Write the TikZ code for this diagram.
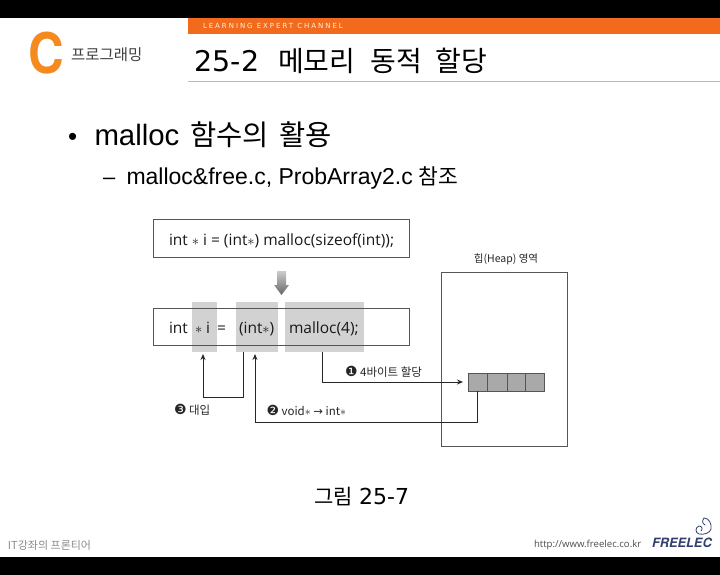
\documentclass[tikz,border=0pt]{standalone}
\usepackage{fontspec}
\usetikzlibrary{arrows.meta,positioning,calc}
\setmainfont{Liberation Sans}
\newfontfamily\kr{Noto Sans CJK KR}
\newfontfamily\fig{Open Sans}
\newfontfamily\syms{DejaVu Sans}
\newfontfamily\wide[LetterSpace=28]{DejaVu Sans}
\newfontfamily\heros{TeX Gyre Heros}
\definecolor{orangeband}{HTML}{F26A1B}
\definecolor{corange}{HTML}{F58A1F}
\definecolor{tanline}{HTML}{D8B48C}
\definecolor{hl}{HTML}{D2D2D2}
\definecolor{cellgray}{HTML}{A9A9A9}
\definecolor{navy}{HTML}{33406E}
\definecolor{boxline}{HTML}{555555}
\tikzset{
  x=1pt,y=-1pt,
  every node/.style={inner sep=0pt,outer sep=0pt},
  lbl/.style={anchor=west,text=black},
  blbl/.style={anchor=base west,text=black},
  codebox/.style={draw=boxline,line width=0.9pt,fill=none,minimum width=255.5pt,minimum height=37.5pt},
  hlbox/.style={fill=hl,minimum height=50pt},
  celln/.style={draw=boxline,fill=cellgray,line width=0.8pt,minimum height=18pt},
  conn/.style={draw=black!85,line width=0.9pt,-{Stealth[length=6pt,width=5pt]}},
  code/.style={anchor=base west,font=\fig\fontsize{15.5}{18}\selectfont,text=black!90},
  note/.style={anchor=west,font=\kr\fontsize{11.5}{13}\selectfont,text=black!85},
}
\begin{document}
\begin{tikzpicture}
\useasboundingbox (0,0) rectangle (720,575);
\fill[white] (0,0) rectangle (720,575);
\fill[black] (0,0) rectangle (720,18);
\fill[black] (0,557) rectangle (720,575);
\fill[orangeband] (188,18) rectangle (720,34);
\draw[tanline,line width=0.9pt] (188,81) -- (720,81);
\node[lbl,text=white!90!orange,font=\wide\fontsize{7}{8}\selectfont] (band) at (203,25.5) {LEARNING EXPERT CHANNEL};
% logo
\node[anchor=center,xscale=0.88,text=corange,font=\heros\bfseries\fontsize{56}{60}\selectfont] (clogo) at (46,53) {C};
\node[lbl,text=black!75,font=\kr\fontsize{15.5}{17}\selectfont] (subj) at (71,55) {프로그래밍};
% title and bullets
\node[blbl,font=\kr\fontsize{28}{30}\selectfont] (title) at (194.5,71.5) {{\syms\fontsize{28.5}{30}\selectfont 25-2}\hspace{19pt}메모리\hspace{15pt}동적\hspace{14pt}할당};
\node[blbl,font=\fontsize{26}{30}\selectfont] (b1dot) at (68,145.5) {•};
\node[blbl,font=\kr\fontsize{28.5}{30}\selectfont] (b1) at (94.5,146) {{\rmfamily\fontsize{29.4}{30}\selectfont malloc}\hspace{11pt}함수의\hspace{10pt}활용};
\node[blbl,font=\fontsize{22}{26}\selectfont] (b2dash) at (103,184) {–};
\node[blbl,font=\fontsize{23}{26}\selectfont] (b2) at (126.5,184.5) {malloc\&free.c, ProbArray2.c\hspace{6pt}{\kr\fontsize{21.5}{24}\selectfont 참조}};
% highlights
\node[hlbox,minimum width=25pt] (g1) at (204.5,327) {};
\node[hlbox,minimum width=42pt] (g2) at (257,327) {};
\node[hlbox,minimum width=79pt] (g3) at (324.5,327) {};
% code boxes
\node[codebox] (top) at (281.25,238.25) {};
\node[codebox] (bot) at (281.25,327) {};
\node[code] (tc) at (169,245) {int $\ast$ i = (int$\ast$) malloc(sizeof(int));};
\node[code] (c1) at (169,333.5) {int};
\node[code] (c2) at (195,333.5) {$\ast$ i};
\node[code] (c3) at (217,333.5) {=};
\node[code] (c4) at (239,333.5) {(int$\ast$)};
\node[code] (c5) at (289,333.5) {malloc(4);};
% down arrow
\shade[top color=black!20,bottom color=black!60]
  (277,271) -- (286,271) -- (286,285) -- (289,285) -- (281.5,295) -- (274,285) -- (277,285) -- cycle;
% heap
\node[font=\kr\fontsize{10.5}{12}\selectfont,text=black!85] (heaplbl) at (506,259) {힙(Heap) 영역};
\node[draw=boxline,line width=0.9pt,minimum width=126pt,minimum height=174.5pt] (heap) at (504,359.25) {};
\node[celln,minimum width=19pt] (m1) at (477.5,382) {};
\node[celln,minimum width=20pt] (m2) at (497,382) {};
\node[celln,minimum width=18pt] (m3) at (516,382) {};
\node[celln,minimum width=19pt] (m4) at (534.5,382) {};
% connector ends
\coordinate (s1) at (322,352);
\coordinate (e1) at (463,382);
\coordinate (s2) at (477,391);
\coordinate (e2) at (255,354);
\coordinate (s3) at (243,352);
\coordinate (e3) at (203,354);
\draw[conn] (s1) -- (s1 |- e1) -- (e1);
\draw[conn] (s2) -- (477,422) -- (255,422) -- (e2);
\draw[conn] (s3) -- (243,397) -- (203,397) -- (e3);
% notes
\node[note] (n1) at (345,372) {{\syms\fontsize{14}{14}\selectfont ❶} 4바이트 할당};
\node[note] (n2) at (266.5,410.5) {{\syms\fontsize{14}{14}\selectfont ❷} void$\ast$ {\syms →} int$\ast$};
\node[note] (n3) at (174,410) {{\syms\fontsize{14}{14}\selectfont ❸} 대입};
% caption
\node[blbl,font=\kr\fontsize{21}{24}\selectfont] (cap) at (314.5,504) {그림\hspace{6pt}{\syms\fontsize{22}{24}\selectfont 25-7}};
% footer
\node[lbl,text=black!45,font=\kr\fontsize{11}{13}\selectfont] (ft) at (8,545) {IT강좌의 프론티어};
\node[lbl,text=black!70,font=\fig\fontsize{9.6}{11}\selectfont] (url) at (534,545) {http://www.freelec.co.kr};
\node[lbl,text=navy,font=\heros\bfseries\itshape\fontsize{12.8}{15}\selectfont] (fl) at (652,543) {FREELEC};
\draw[navy,line width=0.8pt,line cap=round,line join=round]
  (704,518) .. controls (709,518) and (712,524) .. (711,529)
  .. controls (710,533) and (704,535) .. (699,534)
  .. controls (695,533) and (695,527) .. (699,526)
  .. controls (702,526) and (703,529) .. (701,531);
\draw[navy,line width=0.8pt,line cap=round]
  (704,518) .. controls (702,521) and (702,523) .. (705,525);
\end{tikzpicture}
\end{document}
